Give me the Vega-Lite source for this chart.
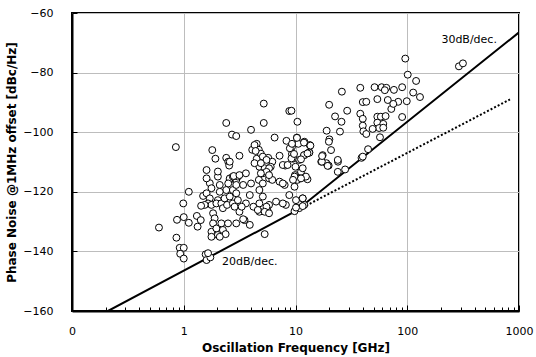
{
"$schema": "https://vega.github.io/schema/vega-lite/v6.json",
"width": 447, "height": 298,
"autosize": {"type": "none"},
"padding": {"left": 72, "top": 13, "right": 17, "bottom": 46},
"background": "white",
"config": {
  "view": {"stroke": "black", "strokeWidth": 2},
  "font": "DejaVu Sans",
  "axis": {"labelFont": "DejaVu Sans", "labelFontSize": 11, "labelColor": "black", "titleFont": "DejaVu Sans", "titleFontSize": 12, "titleFontWeight": "bold", "titleColor": "black", "gridColor": "#bdbdbd", "gridWidth": 1, "domainColor": "black", "domainWidth": 2, "tickColor": "black", "tickWidth": 1}
},
"datasets": {
  "pts": [
    {"f":0.85,"pn":-105},{"f":0.6,"pn":-132},{"f":0.86,"pn":-135.4},{"f":0.87,"pn":-129.4},{"f":1.0,"pn":-128.5},{"f":1.11,"pn":-130.4},{"f":0.99,"pn":-123.9},{"f":1.11,"pn":-120},{"f":0.92,"pn":-138.8},{"f":1.0,"pn":-138.8},
    {"f":0.93,"pn":-140.8},{"f":1.0,"pn":-142.4},{"f":1.57,"pn":-141},{"f":1.6,"pn":-142.9},{"f":1.73,"pn":-142},{"f":1.65,"pn":-140.6},{"f":1.31,"pn":-128.1},{"f":1.42,"pn":-129.5},{"f":1.33,"pn":-131.7},{"f":1.49,"pn":-121.4},
    {"f":1.6,"pn":-120.5},{"f":1.71,"pn":-122.2},{"f":1.65,"pn":-123.9},{"f":1.77,"pn":-124.4},{"f":1.54,"pn":-124.4},{"f":1.71,"pn":-117.1},{"f":1.77,"pn":-118.8},{"f":2.02,"pn":-114.9},{"f":2.1,"pn":-117.7},{"f":2.02,"pn":-122.8},
    {"f":1.96,"pn":-123.9},{"f":1.83,"pn":-127.2},{"f":1.89,"pn":-128.9},{"f":1.83,"pn":-130.6},{"f":1.77,"pn":-133.4},{"f":1.96,"pn":-132.3},{"f":2.17,"pn":-130.6},{"f":2.24,"pn":-132.8},{"f":2.49,"pn":-130.6},{"f":2.37,"pn":-134.2},
    {"f":2.02,"pn":-134.5},{"f":1.77,"pn":-135.1},{"f":2.1,"pn":-135.1},{"f":2.17,"pn":-123.9},{"f":2.24,"pn":-125.5},{"f":2.44,"pn":-124.4},{"f":2.32,"pn":-122.2},{"f":2.58,"pn":-121.6},{"f":2.75,"pn":-123.9},{"f":2.85,"pn":-125},
    {"f":2.75,"pn":-119.4},{"f":2.95,"pn":-120.5},{"f":2.58,"pn":-116},{"f":2.95,"pn":-116},{"f":2.4,"pn":-119.4},{"f":2.1,"pn":-120},{"f":1.6,"pn":-112.7},{"f":2.02,"pn":-113.2},{"f":1.43,"pn":-124.7},{"f":3.05,"pn":-122.8},
    {"f":3.6,"pn":-123.9},{"f":4.2,"pn":-125},{"f":4.75,"pn":-123.9},{"f":5.8,"pn":-124.4},{"f":6.7,"pn":-123.3},{"f":8.2,"pn":-124.4},{"f":10.1,"pn":-122.8},{"f":12,"pn":-124.4},{"f":4.75,"pn":-126.7},{"f":5.6,"pn":-126.1},
    {"f":1.6,"pn":-115.5},{"f":2.58,"pn":-115.5},{"f":3.05,"pn":-114.9},{"f":3.6,"pn":-113.8},{"f":2.5,"pn":-117.2},{"f":2.95,"pn":-117.7},{"f":3.4,"pn":-117.7},{"f":4.0,"pn":-117.2},{"f":4.7,"pn":-116},{"f":5.8,"pn":-115.5},
    {"f":7.2,"pn":-116.6},{"f":8.0,"pn":-117.7},{"f":9.8,"pn":-118.3},{"f":5.3,"pn":-134.2},{"f":10.8,"pn":-125.5},{"f":11.6,"pn":-124.8},{"f":9.8,"pn":-126.5},{"f":3.9,"pn":-131.1},{"f":3.5,"pn":-129.5},{"f":3.15,"pn":-126.7},
    {"f":3.3,"pn":-125},{"f":3.9,"pn":-121.1},{"f":4.75,"pn":-119.4},{"f":5.1,"pn":-121.6},{"f":5.5,"pn":-125},{"f":4.6,"pn":-126.1},{"f":7.7,"pn":-123.9},{"f":8.8,"pn":-121.1},{"f":11.6,"pn":-122.2},{"f":12.8,"pn":-115.8},
    {"f":10.8,"pn":-115.5},{"f":7.7,"pn":-117.2},{"f":6.2,"pn":-116},{"f":5.1,"pn":-117.2},{"f":2.75,"pn":-114.9},{"f":5.3,"pn":-126.7},{"f":5.8,"pn":-127.2},{"f":2.95,"pn":-130.6},{"f":3.4,"pn":-129.2},
    {"f":2.4,"pn":-96.9},{"f":5.2,"pn":-90.4},{"f":5.2,"pn":-96.9},{"f":8.8,"pn":-92.9},{"f":4.0,"pn":-99.2},{"f":2.7,"pn":-100.8},{"f":2.95,"pn":-101.3},{"f":1.8,"pn":-106},{"f":1.92,"pn":-108.9},{"f":3.15,"pn":-107.9},
    {"f":2.4,"pn":-108.6},{"f":2.5,"pn":-109.9},{"f":2.55,"pn":-111.2},{"f":4.5,"pn":-103.9},{"f":4.1,"pn":-105.9},{"f":4.7,"pn":-105.9},{"f":4.5,"pn":-108.9},{"f":4.9,"pn":-107.2},{"f":6.5,"pn":-101.8},{"f":8.3,"pn":-102.9},
    {"f":9.3,"pn":-104.9},{"f":10.3,"pn":-101.8},{"f":10.6,"pn":-103.9},{"f":7.2,"pn":-107.9},{"f":5.7,"pn":-108.6},{"f":6.2,"pn":-109.9},{"f":5.5,"pn":-110.9},{"f":6.0,"pn":-111.6},{"f":9.3,"pn":-107.3},{"f":9.5,"pn":-108.9},
    {"f":8.1,"pn":-111.2},{"f":10,"pn":-111.6},{"f":4.3,"pn":-104.3},{"f":4.4,"pn":-106.3},{"f":5.1,"pn":-108.2},{"f":5.5,"pn":-109.3},{"f":4.75,"pn":-111.6},{"f":5.3,"pn":-112.1},{"f":5.8,"pn":-112.1},{"f":5.1,"pn":-113.8},
    {"f":4.3,"pn":-110.4},{"f":4.9,"pn":-110.4},{"f":8.9,"pn":-105.4},{"f":9.2,"pn":-108.8},{"f":9.9,"pn":-114.4},{"f":10.4,"pn":-116},{"f":11.2,"pn":-113.3},{"f":12.4,"pn":-114.9},{"f":7.7,"pn":-111},{"f":8.5,"pn":-111},
    {"f":12,"pn":-103.2},{"f":13.4,"pn":-104.3},{"f":13.3,"pn":-106.7},{"f":12,"pn":-107.7},{"f":10.8,"pn":-109.3},{"f":5.5,"pn":-113.3},{"f":4.9,"pn":-113.8},{"f":5.8,"pn":-114.4},{"f":11.6,"pn":-112.1},{"f":2.58,"pn":-109.9},
    {"f":2.8,"pn":-114.7},{"f":3.15,"pn":-114.4},{"f":9.8,"pn":-114.9},{"f":17,"pn":-109.9},{"f":17.5,"pn":-107.7},{"f":18.9,"pn":-110.4},{"f":10.4,"pn":-96.5},{"f":9.2,"pn":-92.8},{"f":10.3,"pn":-101.9},{"f":9.3,"pn":-103.9},
    {"f":11.9,"pn":-103.5},{"f":13.6,"pn":-104.5},{"f":9.7,"pn":-107.3},{"f":11.9,"pn":-107.7},{"f":13.3,"pn":-106.9},{"f":11.2,"pn":-109.1},{"f":17.2,"pn":-109.9},{"f":19.8,"pn":-111.2},{"f":24,"pn":-109.9},{"f":27.8,"pn":-112.5},
    {"f":39,"pn":-108.6},{"f":12.8,"pn":-107.1},{"f":19.4,"pn":-111.3},{"f":23.9,"pn":-113.3},{"f":9.5,"pn":-116},{"f":11.2,"pn":-115.5},{"f":11.6,"pn":-122.2},{"f":10.1,"pn":-125.3},
    {"f":96,"pn":-75.3},{"f":101,"pn":-80.7},{"f":120,"pn":-82.8},{"f":113,"pn":-86.7},{"f":130,"pn":-88.2},{"f":290,"pn":-77.9},{"f":315,"pn":-76.9},{"f":26,"pn":-86.4},{"f":38,"pn":-85.1},{"f":51,"pn":-84.9},
    {"f":59,"pn":-84.9},{"f":65,"pn":-85.1},{"f":63,"pn":-85.9},{"f":76,"pn":-85.8},{"f":90,"pn":-84.9},{"f":40,"pn":-89.9},{"f":43,"pn":-89.8},{"f":54,"pn":-88.9},{"f":67,"pn":-89.2},{"f":83,"pn":-89.8},
    {"f":99,"pn":-89.6},{"f":20,"pn":-90.8},{"f":29,"pn":-92.8},{"f":22.6,"pn":-94.7},{"f":25.8,"pn":-96.5},{"f":25,"pn":-99.8},{"f":38,"pn":-93.8},{"f":40,"pn":-95.5},{"f":40,"pn":-97.8},{"f":40.5,"pn":-99.7},
    {"f":43,"pn":-100.6},{"f":54,"pn":-94.8},{"f":58,"pn":-94.8},{"f":64,"pn":-94.6},{"f":54,"pn":-96.8},{"f":61,"pn":-97.2},{"f":56,"pn":-98.6},{"f":61,"pn":-98.5},{"f":49,"pn":-98.9},{"f":57,"pn":-101.7},
    {"f":90,"pn":-94.9},{"f":72,"pn":-92.2},{"f":44.6,"pn":-105.7},{"f":40,"pn":-108.2},{"f":19,"pn":-99.5},{"f":20.1,"pn":-102.4},{"f":19.9,"pn":-103.2},{"f":20.8,"pn":-106},{"f":17.3,"pn":-108},{"f":23.9,"pn":-109.3},
    {"f":75,"pn":-90.5}
  ],
  "solid": [{"f":0.21,"pn":-160},{"f":10,"pn":-126.5},{"f":1000,"pn":-66.5}],
  "dotted": [{"f":10,"pn":-126.5},{"f":830,"pn":-89}],
  "labels": [{"f":358,"pn":-69,"label":"30dB/dec."},{"f":3.9,"pn":-143.6,"label":"20dB/dec."}]
},
"layer": [
  {
    "data": {"name": "solid"},
    "mark": {"type": "line", "color": "black", "strokeWidth": 2, "clip": true},
    "encoding": {
      "x": {"field": "f", "type": "quantitative",
        "scale": {"type": "log", "domain": [0.1, 1000], "nice": false},
        "axis": {
          "values": [0.1,0.2,0.3,0.4,0.5,0.6,0.7,0.8,0.9,1,2,3,4,5,6,7,8,9,10,20,30,40,50,60,70,80,90,100,200,300,400,500,600,700,800,900,1000],
          "labelExpr": "datum.value == 0.1 ? '0' : (indexof([1,10,100,1000], datum.value) >= 0 ? format(datum.value, 'd') : '')",
          "gridOpacity": {"condition": {"test": "indexof([0.1,1,10,100,1000], datum.value) >= 0", "value": 1}, "value": 0},
          "tickSize": {"condition": {"test": "indexof([0.1,1,10,100,1000], datum.value) >= 0", "value": -6}, "value": -4},
          "labelPadding": 20, "labelFlush": false, "labelOverlap": false,
          "title": "Oscillation Frequency [GHz]", "titlePadding": 4
        }},
      "y": {"field": "pn", "type": "quantitative",
        "scale": {"domain": [-160, -60], "nice": false, "zero": false},
        "axis": {"values": [-160,-140,-120,-100,-80,-60], "tickSize": -5, "labelPadding": 24,
          "title": "Phase Noise @1MHz offset [dBc/Hz]", "titlePadding": 4}}
    }
  },
  {
    "data": {"name": "dotted"},
    "mark": {"type": "line", "color": "black", "strokeWidth": 2, "strokeDash": [2, 2], "clip": true},
    "encoding": {
      "x": {"field": "f", "type": "quantitative"},
      "y": {"field": "pn", "type": "quantitative"}
    }
  },
  {
    "data": {"name": "pts"},
    "mark": {"type": "point", "shape": "circle", "size": 48, "fill": "white", "stroke": "black", "strokeWidth": 1, "opacity": 1, "filled": false, "fillOpacity": 1},
    "encoding": {
      "x": {"field": "f", "type": "quantitative"},
      "y": {"field": "pn", "type": "quantitative"}
    }
  },
  {
    "data": {"name": "labels"},
    "mark": {"type": "text", "font": "DejaVu Sans", "fontSize": 11, "color": "black", "align": "center", "baseline": "middle"},
    "encoding": {
      "x": {"field": "f", "type": "quantitative"},
      "y": {"field": "pn", "type": "quantitative"},
      "text": {"field": "label"}
    }
  }
]
}
